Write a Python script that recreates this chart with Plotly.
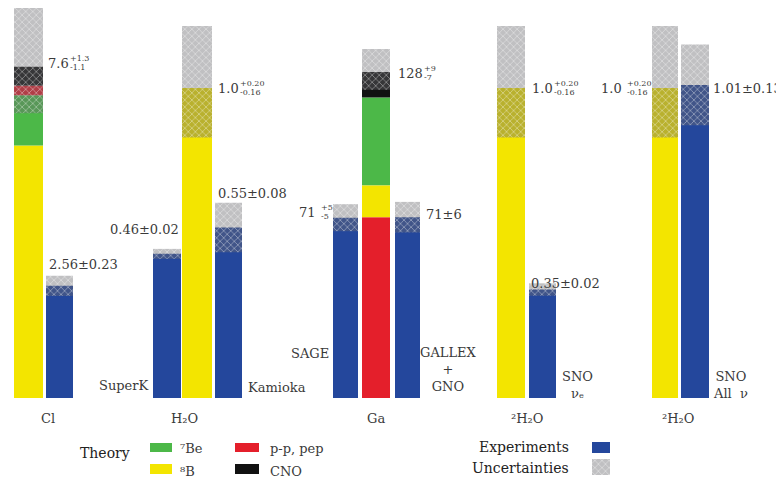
import plotly.graph_objects as go

# ---------------- data ----------------
columns = ["Cl", "H₂O", "Ga", "²H₂O", "²H₂O"]

# theory components (units of each column: SNU for Cl/Ga, ratio to SSM for water)
theory_8B = [5.76, 1.0, 12.5, 1.0, 1.0]
theory_7Be = [1.15, 0.0, 34.5, 0.0, 0.0]
theory_pp_pep = [0.22, 0.0, 71.0, 0.0, 0.0]
theory_CNO = [0.43, 0.0, 10.0, 0.0, 0.0]
theory_total = [7.6, 1.0, 128, 1.0, 1.0]
theory_err_up = [1.3, 0.20, 9, 0.20, 0.20]
theory_err_dn = [1.1, 0.16, 7, 0.16, 0.16]
theory_up_txt = ["+1.3", "+0.20", "+9", "+0.20", "+0.20"]
theory_dn_txt = ["-1.1", "-0.16", "-7", "-0.16", "-0.16"]
theory_main_txt = ["7.6", "1.0", "128", "1.0", "1.0"]

exp_names = ["Homestake", "SuperK", "Kamioka", "SAGE", "GALLEX<br>+<br>GNO", "SNO<br>νₑ", "SNO<br>All  ν"]
exp_column = [0, 1, 1, 2, 2, 3, 4]
exp_value = [2.56, 0.465, 0.55, 70.8, 71.0, 0.35, 1.01]
exp_err = [0.23, 0.016, 0.08, 5.3, 6.0, 0.02, 0.13]
exp_label = ["2.56±0.23", "0.46±0.02", "0.55±0.08", "71", "71±6", "0.35±0.02", "1.01±0.13"]

legend_theory = ["⁷Be", "p-p, pep", "⁸B", "CNO"]

# ---------------- style / layout ----------------
W, H = 784, 479
OFF = 8                          # page body margin in the browser
BASE = 398                       # pixel row of the baseline (page coordinates)
theory_top_px = [65, 88, 72, 88, 88]
scale = [(BASE - t) / tot for t, tot in zip(theory_top_px, theory_total)]

theory_x = [28.5, 197, 376, 511, 665]
theory_w = [29, 30, 28, 28, 26]
exp_x = [59.5, 167, 228.5, 345.5, 407.5, 542.5, 695]
exp_w = [27, 28, 27, 25, 25, 27, 28]

YELLOW = "#f3e500"
GREEN = "#4cb848"
RED = "#e41f2b"
BLACK = "#111111"
BLUE = "#24479c"
TXT = "#3a3a3a"
FONT = "DejaVu Serif"
FS = 13

HATCH = dict(color="rgba(105,105,110,0.42)", line=dict(width=0),
             pattern=dict(shape="x", fgcolor="rgba(255,255,255,0.85)", size=5,
                          solidity=0.3, fillmode="overlay"))

def py(p):
    """page pixel row -> data y"""
    return BASE - p

fig = go.Figure()

def add_bars(xs, bases, heights, widths, marker):
    fig.add_trace(go.Bar(x=xs, y=heights, base=bases, width=widths,
                         marker=marker, showlegend=False, hoverinfo="skip"))

# theory stacks (order differs between Cl and Ga as in the original)
orders = {0: ["8B", "7Be", "pp", "CNO"], 2: ["pp", "8B", "7Be", "CNO"]}
comp = {"8B": (theory_8B, YELLOW), "7Be": (theory_7Be, GREEN),
        "pp": (theory_pp_pep, RED), "CNO": (theory_CNO, BLACK)}
for c in range(len(columns)):
    order = orders.get(c, ["8B", "7Be", "pp", "CNO"])
    b = 0.0
    for key in order:
        vals, col = comp[key]
        v = vals[c] * scale[c]
        if v > 0:
            add_bars([theory_x[c]], [b], [v], [theory_w[c]], dict(color=col, line=dict(width=0)))
            b += v

# experiments
add_bars(exp_x, [0] * len(exp_value), [v * scale[c] for v, c in zip(exp_value, exp_column)],
         exp_w, dict(color=BLUE, line=dict(width=0)))

# uncertainties (hatched overlay)
add_bars(theory_x,
         [(t - d) * s for t, d, s in zip(theory_total, theory_err_dn, scale)],
         [(u + d) * s for u, d, s in zip(theory_err_up, theory_err_dn, scale)],
         theory_w, HATCH)
add_bars(exp_x,
         [(v - e) * scale[c] for v, e, c in zip(exp_value, exp_err, exp_column)],
         [2 * e * scale[c] for e, c in zip(exp_err, exp_column)],
         exp_w, HATCH)

# ---------------- legend swatches ----------------
add_bars([161, 247, 161, 247], [py(452), py(452), py(474), py(474)], [9, 9, 10, 10],
         [22, 24, 22, 24],
         dict(color=[GREEN, RED, YELLOW, BLACK], line=dict(width=0)))
add_bars([601], [py(453)], [11], [18], dict(color=BLUE, line=dict(width=0)))
add_bars([601], [py(475)], [16], [18], HATCH)

ann = []
def text(x, p, s, size=FS, xanchor="left", color=TXT):
    ann.append(dict(x=x, y=py(p), text=s, showarrow=False, xanchor=xanchor,
                    yanchor="middle", font=dict(family=FONT, size=size, color=color)))

CW = {".": 0.318, "±": 0.838, "+": 0.838, "-": 0.338}
def width(s, size):
    return sum(CW.get(ch, 0.636) for ch in s) * size

def pm(x, p, main, up, dn, anchor="left", size=FS, small=8):
    if anchor == "left":
        text(x, p, main, size)
        xs = x + width(main, size) + 1
    else:
        xs = x - max(width(up, small), width(dn, small))
        text(xs - 1, p, main, size, xanchor="right")
    text(xs, p - 4.5, up, small)
    text(xs, p + 4.5, dn, small)

# theory labels
pm(46, 63, theory_main_txt[0], theory_up_txt[0], theory_dn_txt[0])
pm(216, 88, theory_main_txt[1], theory_up_txt[1], theory_dn_txt[1])
pm(396, 73, theory_main_txt[2], theory_up_txt[2], theory_dn_txt[2])
pm(530, 88, theory_main_txt[3], theory_up_txt[3], theory_dn_txt[3])
pm(650, 88, theory_main_txt[4], theory_up_txt[4], theory_dn_txt[4], anchor="right")

# experiment value labels
text(47, 264, exp_label[0])
text(181, 229, exp_label[1], xanchor="right")
text(216, 193, exp_label[2])
pm(331, 212, exp_label[3], "+5", "-5", anchor="right")
text(424, 214, exp_label[4])
text(529, 283, exp_label[5])
text(711, 88, exp_label[6])

# experiment names
text(151, 385, exp_names[1], xanchor="right")
text(246, 387, exp_names[2])
text(331, 353, exp_names[3], xanchor="right")
ann.append(dict(x=448, y=py(369), text=exp_names[4], showarrow=False, xanchor="center",
                yanchor="middle", align="center",
                font=dict(family=FONT, size=FS, color=TXT)))
ann.append(dict(x=560, y=py(385), text=exp_names[5], showarrow=False, xanchor="left",
                yanchor="middle", align="center",
                font=dict(family=FONT, size=FS, color=TXT)))
ann.append(dict(x=711, y=py(385), text=exp_names[6], showarrow=False, xanchor="left",
                yanchor="middle", align="center",
                font=dict(family=FONT, size=FS, color=TXT)))

# column labels
for xc, lab in zip([48, 184, 376, 527, 678], columns):
    text(xc, 418, lab, xanchor="center")

# legend texts
text(78, 453, "Theory", size=14, color="#222")
text(178, 448, legend_theory[0])
text(268, 448, legend_theory[1])
text(178, 471, legend_theory[2])
text(268, 471, legend_theory[3])
text(571, 447, "Experiments", size=14, xanchor="right", color="#222")
text(571, 468, "Uncertainties", size=14, xanchor="right", color="#222")

fig.update_layout(
    width=W, height=H, margin=dict(l=0, r=0, t=0, b=0),
    paper_bgcolor="white", plot_bgcolor="white", barmode="overlay",
    xaxis=dict(range=[OFF, W + OFF], visible=False, fixedrange=True),
    yaxis=dict(range=[BASE - H - OFF, BASE - OFF], visible=False, fixedrange=True),
    annotations=ann, showlegend=False,
)

fig.write_html("out.html")
